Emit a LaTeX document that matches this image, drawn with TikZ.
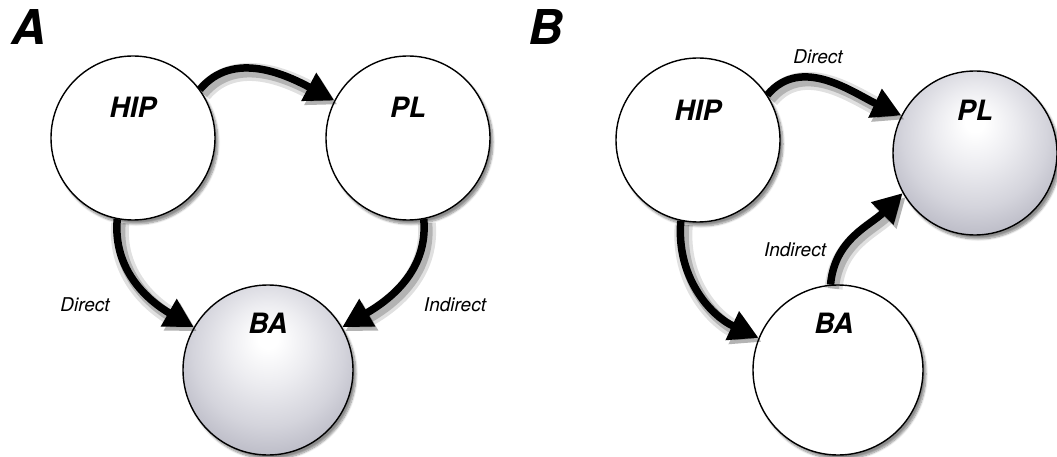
\documentclass[tikz,border=0pt]{standalone}
\usepackage{fontspec}
\setmainfont{TeX Gyre Heros}
\usetikzlibrary{arrows.meta,shadows.blur}
\definecolor{sphA}{RGB}{236,236,240}
\definecolor{sphB}{RGB}{212,212,220}
\definecolor{sphC}{RGB}{180,180,192}
\definecolor{sphedge}{RGB}{140,140,154}
\definecolor{sphdark}{RGB}{110,110,125}
\pgfdeclareradialshading{sphereshade}{\pgfpoint{0bp}{10bp}}{%
  color(0bp)=(white); color(3bp)=(white); color(12bp)=(sphA);
  color(22bp)=(sphB); color(32bp)=(sphC); color(42bp)=(sphedge);
  color(50bp)=(sphdark)}
\tikzset{
  ball/.style={circle, draw=black, line width=1.4pt, inner sep=0pt,
    blur shadow={shadow xshift=3pt, shadow yshift=-4pt, shadow blur steps=8, shadow opacity=45}},
  plainball/.style={ball, fill=white},
  greyball/.style={ball, shading=sphereshade},
  nlabel/.style={font=\fontsize{28}{30}\selectfont\bfseries\itshape, inner sep=0pt},
  plabel/.style={font=\fontsize{48}{50}\selectfont\bfseries\itshape, inner sep=0pt},
  elabel/.style={font=\fontsize{19}{21}\selectfont\itshape, inner sep=0pt},
  conn/.style={line width=7.5pt, -{Triangle[length=29pt,width=30pt]},
    preaction={draw=black, draw opacity=0.12, fill opacity=0.12, line width=18pt,
      transform canvas={shift={(3pt,-4pt)}}},
    preaction={draw=black, draw opacity=0.2, fill opacity=0.2, line width=11pt,
      transform canvas={shift={(3pt,-4pt)}}}}
}
\begin{document}
\begin{tikzpicture}[x=1pt,y=1pt]
\useasboundingbox (0,0) rectangle (1057,-457);
% ---------- Panel A ----------
\node[plabel] (labA) at (29,-27) {A};
\node[plainball, minimum size=164pt] (hipA) at (133,-138) {};
\node[plainball, minimum size=164pt] (plA) at (408,-138) {};
\node[greyball, minimum size=170pt] (baA) at (268,-370) {};
\node[nlabel] (hipAt) at (133,-107) {HIP};
\node[nlabel] (plAt) at (408,-107) {PL};
\node[nlabel] (baAt) at (268,-323) {BA};
\draw[conn] (hipA.36) to[out=50, in=152] (plA.153);
\draw[conn] (hipA.259) to[out=265, in=150] (baA.150);
\draw[conn] (plA.281) to[out=275, in=30] (baA.30);
\node[elabel] (dirA) at (85,-305) {Direct};
\node[elabel] (indA) at (455,-305) {Indirect};
% ---------- Panel B ----------
\node[plabel] (labB) at (546,-27) {B};
\node[plainball, minimum size=164pt] (hipB) at (698,-140) {};
\node[greyball, minimum size=164pt] (plB) at (975,-153) {};
\node[plainball, minimum size=170pt] (baB) at (838,-370) {};
\node[nlabel] (hipBt) at (698,-110) {HIP};
\node[nlabel] (plBt) at (975,-110) {PL};
\node[nlabel] (baBt) at (834,-323) {BA};
\draw[conn] (hipB.33) to[out=50, in=155] (plB.153);
\draw[conn] (hipB.258) to[out=265, in=155] (baB.158);
\draw[conn] (baB.95) to[out=85, in=225] (plB.209);
\node[elabel] (dirB) at (818,-57) {Direct};
\node[elabel] (indB) at (795,-250) {Indirect};
\end{tikzpicture}
\end{document}
